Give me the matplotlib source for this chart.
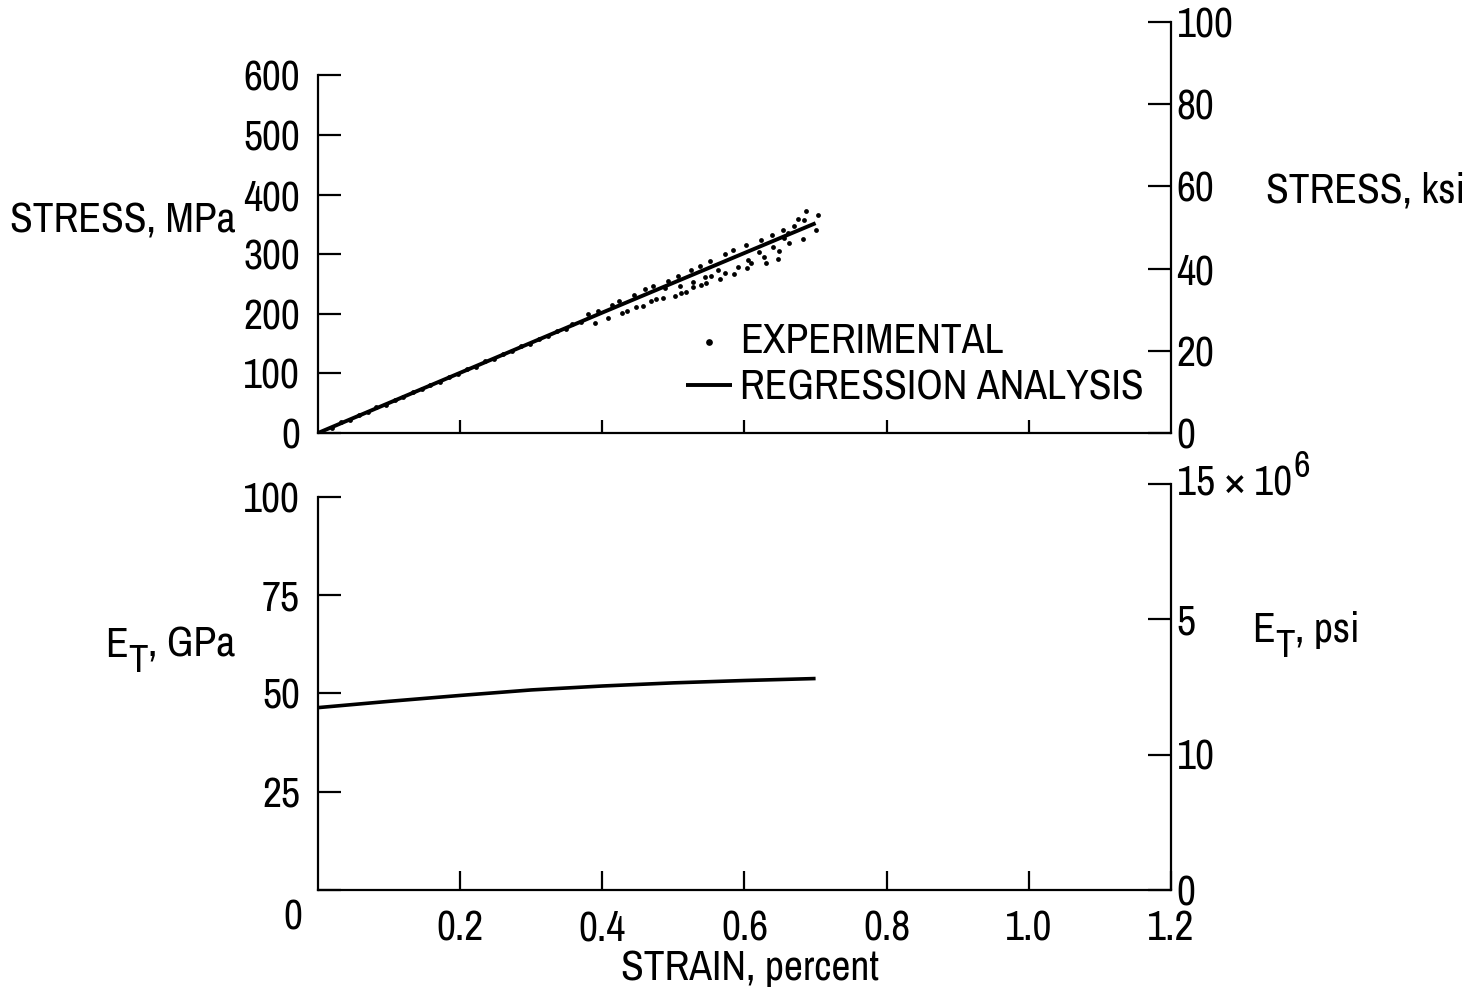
import matplotlib
matplotlib.use("Agg")
import matplotlib.pyplot as plt
from matplotlib import font_manager

# ---- data -------------------------------------------------------------
# experimental stress-strain points (strain in percent, stress in MPa)
strain_exp = [0.020, 0.033, 0.045, 0.058, 0.070, 0.082, 0.095, 0.108, 0.120, 0.133,
              0.146, 0.158, 0.171, 0.184, 0.197, 0.210, 0.222, 0.235, 0.248, 0.260,
              0.273, 0.286, 0.298, 0.311, 0.324, 0.336, 0.349, 0.358, 0.370, 0.380,
              0.389, 0.394, 0.408, 0.413, 0.424, 0.427, 0.434,
              0.445, 0.448, 0.457, 0.460, 0.469, 0.471, 0.476, 0.485, 0.488, 0.492,
              0.502, 0.506, 0.509, 0.511, 0.518, 0.525, 0.527, 0.528, 0.537, 0.539,
              0.544, 0.546, 0.551, 0.553, 0.563, 0.565, 0.572, 0.573, 0.584, 0.585,
              0.591, 0.602, 0.603, 0.605, 0.609, 0.621, 0.623, 0.628, 0.630, 0.638,
              0.640, 0.647, 0.649, 0.654, 0.656, 0.661, 0.663, 0.670, 0.675, 0.682,
              0.684, 0.687, 0.701, 0.703]
stress_exp = [9, 18, 22, 30, 35, 43, 47, 56, 60, 68,
              73, 81, 86, 94, 99, 107, 111, 120, 124, 133,
              137, 146, 150, 158, 162, 171, 175, 183, 186, 199,
              185, 204, 193, 215, 221, 201, 205,
              232, 212, 213, 241, 221, 246, 224, 227, 243, 255,
              229, 263, 247, 235, 237, 274, 254, 245, 280, 249,
              262, 251, 288, 263, 273, 258, 301, 268, 307, 267,
              278, 315, 277, 290, 286, 304, 323, 295, 286, 332,
              312, 292, 306, 341, 327, 336, 318, 348, 359, 326,
              357, 373, 340, 365]

# regression analysis curve
strain_fit = [0.0, 0.1, 0.2, 0.3, 0.4, 0.5, 0.6, 0.7]
stress_fit = [0, 50.5, 101, 151.5, 202, 252, 302, 352]

# tangent modulus from the regression
strain_et = [0.0, 0.1, 0.2, 0.3, 0.4, 0.5, 0.6, 0.7]
et_gpa = [46.4, 48.0, 49.5, 50.9, 51.9, 52.7, 53.3, 53.8]

strain_ticks = [0.2, 0.4, 0.6, 0.8, 1.0, 1.2]
strain_labels = ["0.2", "0.4", "0.6", "0.8", "1.0", "1.2"]
mpa_ticks = [0, 100, 200, 300, 400, 500, 600]
ksi_ticks = [0, 20, 40, 60, 80, 100]
gpa_ticks = [0, 25, 50, 75, 100]
gpa_labels = ["", "25", "50", "75", "100"]
psi_ticks = [0, 5, 10, 15]
psi_labels = ["0", "10", "5", ""]
psi_top_label = "15 \u00d7 10"
psi_top_exponent = "6"

MPA_PER_KSI = 6.894757

# ---- font: prefer a narrow sans face ----------------------------------------
entries = font_manager.fontManager.ttflist


def pick_font():
    plain = [f for f in entries if f.style == "normal"
             and f.weight in (400, "normal", "regular", "book")]
    for f in plain:
        if f.name == "Liberation Sans Narrow":
            return f.name, f.stretch, True
    for f in plain:
        n = f.name.lower()
        if ("condensed" in n or "narrow" in n) and "extra" not in n and "semi" not in n:
            return f.name, f.stretch, True
    for fam in ("DejaVu Sans", "Noto Sans", "Roboto", "Open Sans"):
        for f in plain:
            if f.name == fam and f.stretch == "condensed":
                return f.name, f.stretch, True
    for fam in ("DejaVu Sans", "Noto Sans", "Roboto", "Open Sans"):
        for f in plain:
            if f.name == fam and f.stretch not in ("normal", 500):
                return f.name, f.stretch, True
    return "DejaVu Sans", "normal", False


FONT, STRETCH, NARROW = pick_font()
plt.rcParams["font.family"] = [FONT, "DejaVu Sans"]
plt.rcParams["font.stretch"] = STRETCH

FS = 30 if NARROW else 23
LW_AX = 1.6
W, H = 1477, 993
fig = plt.figure(figsize=(W / 100, H / 100), dpi=100)


def px(x, y):
    return x / W, 1 - y / H


def rect(x0, x1, y_top, y_bot):
    return [x0 / W, 1 - y_bot / H, (x1 - x0) / W, (y_bot - y_top) / H]


# ---- upper panel: stress-strain -----------------------------------------
ax1 = fig.add_axes(rect(318, 1171, 22, 433))
ax1.set_xlim(0, 1.2)
ax1.set_ylim(0, 100 * MPA_PER_KSI)
ax1.scatter(strain_exp, stress_exp, s=12, color="black", linewidths=0,
            label="EXPERIMENTAL", zorder=3)
ax1.plot(strain_fit, stress_fit, color="black", lw=2.8,
         label="REGRESSION ANALYSIS", solid_capstyle="butt", zorder=4)

ax1.set_xticks(strain_ticks[:-1])
ax1.tick_params(axis="x", direction="in", length=9.5, width=LW_AX, labelbottom=False)
ax1.set_yticks(mpa_ticks)
ax1.tick_params(axis="y", direction="in", length=16.5, width=LW_AX, pad=13, labelsize=FS)
ax1.spines["left"].set_bounds(0, 600)
ax1.spines["top"].set_visible(False)
ax1.spines["right"].set_visible(False)
for s in ("left", "bottom"):
    ax1.spines[s].set_linewidth(LW_AX)

ax1r = ax1.twinx()
ax1r.set_ylim(0, 100)
ax1r.set_yticks(ksi_ticks)
ax1r.tick_params(axis="y", direction="in", length=16.5, width=LW_AX, pad=4, labelsize=FS)
for s in ("left", "bottom", "top"):
    ax1r.spines[s].set_visible(False)
ax1r.spines["right"].set_linewidth(LW_AX)

ax1.legend(loc="upper left", bbox_to_anchor=px(686, 322),
           bbox_transform=fig.transFigure, frameon=False, fontsize=FS,
           handlelength=1.1, handletextpad=0.2, labelspacing=0.2,
           borderpad=0, borderaxespad=0, scatterpoints=1, markerscale=1.4)

# ---- lower panel: tangent modulus ---------------------------------------
ax2 = fig.add_axes(rect(318, 1171, 483.5, 890))
ax2.set_xlim(0, 1.2)
ax2.set_ylim(0, 15 * MPA_PER_KSI)
ax2.plot(strain_et, et_gpa, color="black", lw=2.6, solid_capstyle="butt")

ax2.set_xticks(strain_ticks)
ax2.set_xticklabels(strain_labels)
ax2.tick_params(axis="x", direction="in", length=14, width=LW_AX, pad=14, labelsize=FS)
ax2.set_yticks(gpa_ticks)
ax2.set_yticklabels(gpa_labels)
ax2.tick_params(axis="y", direction="in", length=16.5, width=LW_AX, pad=13, labelsize=FS)
ax2.spines["left"].set_bounds(0, 100)
ax2.spines["top"].set_visible(False)
ax2.spines["right"].set_visible(False)
for s in ("left", "bottom"):
    ax2.spines[s].set_linewidth(LW_AX)
ax2.annotate("0", xy=(0, 0), xycoords="data", xytext=(-18, -20),
             textcoords="offset points", ha="center", va="center", fontsize=FS,
             annotation_clip=False)

ax2r = ax2.twinx()
ax2r.set_ylim(0, 15)
ax2r.set_yticks(psi_ticks)
ax2r.set_yticklabels(psi_labels)
ax2r.tick_params(axis="y", direction="in", length=16.5, width=LW_AX, pad=4, labelsize=FS)
for s in ("left", "bottom", "top"):
    ax2r.spines[s].set_visible(False)
ax2r.spines["right"].set_linewidth(LW_AX)

# top label of the psi scale with its raised exponent
top = ax2r.annotate(psi_top_label, xy=(1, 15), xycoords=("axes fraction", "data"),
                    xytext=(4, 0), textcoords="offset points", ha="left",
                    va="center", fontsize=FS, annotation_clip=False)
ax2r.annotate(psi_top_exponent, xy=(1, 1), xycoords=top, xytext=(1, -13),
              textcoords="offset points", ha="left", va="bottom",
              fontsize=FS - 4, annotation_clip=False)

# ---- axis titles ------------------------------------------------------------
fig.text(*px(123, 220), "STRESS, MPa", ha="center", va="center", fontsize=FS)
fig.text(*px(1366, 190), "STRESS, ksi", ha="center", va="center", fontsize=FS)
fig.text(*px(750, 968), "STRAIN, percent", ha="center", va="center", fontsize=FS)


def subscript_label(x, y, main, sub, rest):
    t1 = fig.text(*px(x, y), main, ha="left", va="baseline", fontsize=FS)
    t2 = ax2.annotate(sub, xy=(1, 0), xycoords=t1, xytext=(0.5, -11),
                      textcoords="offset points", ha="left", va="bottom",
                      fontsize=FS - 2, annotation_clip=False)
    ax2.annotate(rest, xy=(1, 0), xycoords=(t2, t1), xytext=(0, 0),
                 textcoords="offset points", ha="left", va="bottom",
                 fontsize=FS, annotation_clip=False)


subscript_label(105, 657, "E", "T", ", GPa")
subscript_label(1252, 642, "E", "T", ", psi")

fig.savefig("out.png", dpi=100)
